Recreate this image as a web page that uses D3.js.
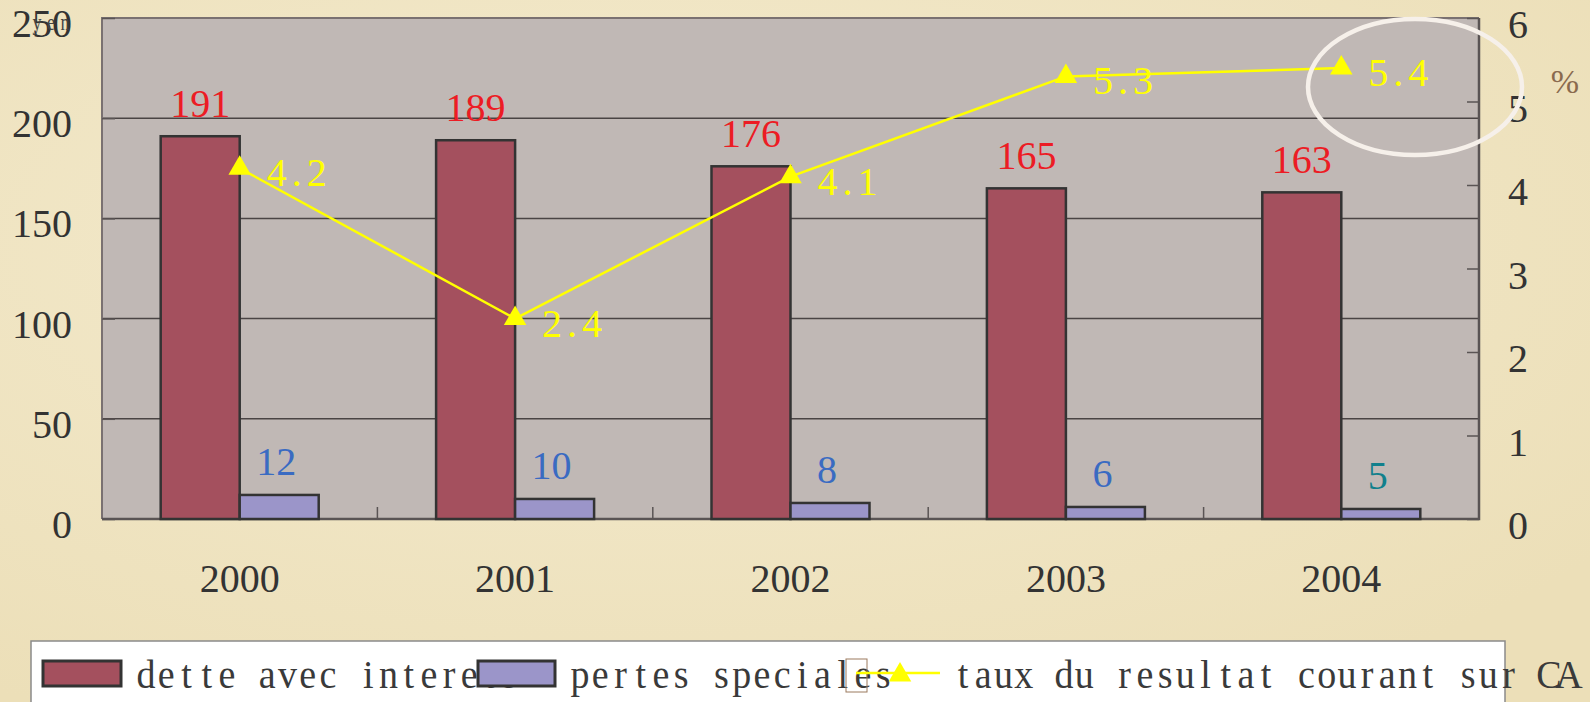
<!DOCTYPE html>
<html>
<head>
<meta charset="utf-8">
<script src="https://cdn.jsdelivr.net/npm/d3@7"></script>
<style>
  html, body { margin: 0; padding: 0; overflow: hidden; }
  svg { display: block; }
</style>
</head>
<body>
<svg id="chart"></svg>
<script>
const years = ["2000", "2001", "2002", "2003", "2004"];
const detteValues = [191, 189, 176, 165, 163];
const pertesValues = [12, 10, 8, 6, 5];
const tauxValues = [4.2, 2.4, 4.1, 5.3, 5.4];
const tauxLabels = ["4.2", "2.4", "4.1", "5.3", "5.4"];
const leftTicks = [0, 50, 100, 150, 200, 250];
const rightTicks = [0, 1, 2, 3, 4, 5, 6];
const seriesNames = ["dette avec interets", "pertes speciales", "taux du resultat courant sur CA"];
const pertesLabelColors = ["#3a6bc2", "#3a6bc2", "#3a6bc2", "#3a6bc2", "#11808c"];

const W = 1590, H = 702;
const plot = { left: 102, right: 1479, top: 18, bottom: 519 };
const FONT = "'Liberation Serif', 'DejaVu Serif', serif";

const svg = d3.select("#chart").attr("width", W).attr("height", H);

// parchment background
const defs = svg.append("defs");
const bg = defs.append("radialGradient").attr("id", "bgGrad").attr("cx", "40%").attr("cy", "35%").attr("r", "75%");
bg.append("stop").attr("offset", "0%").attr("stop-color", "#f4ebcf");
bg.append("stop").attr("offset", "100%").attr("stop-color", "#ecdfb8");
svg.append("rect").attr("width", W).attr("height", H).attr("fill", "url(#bgGrad)");

// fixed pitch text, like the half width glyphs of the original
function monoText(g, str, x, y, o) {
  const size = o.size || 40, pitch = o.pitch || 20, sx = o.sx || 1;
  const w = str.length * pitch;
  const x0 = o.anchor === "middle" ? x - w / 2 : o.anchor === "end" ? x - w : x;
  const t = g.append("text")
    .attr("transform", `translate(${x0},${y}) scale(${sx},1)`)
    .attr("font-family", FONT)
    .attr("font-size", size)
    .attr("fill", o.fill || "#333");
  str.split("").forEach((c, i) => {
    t.append("tspan").attr("x", (i + 0.5) * pitch / sx).attr("y", 0)
      .attr("text-anchor", "middle").text(c);
  });
  return t;
}

const x = d3.scaleBand().domain(years).range([plot.left, plot.right]).padding(0);
const xs = d3.scaleBand().domain(["dette", "pertes"]).range([0, x.bandwidth()])
  .paddingInner(0).paddingOuter(0.743);
const yL = d3.scaleLinear().domain([0, 250]).range([plot.bottom, plot.top]);
const yR = d3.scaleLinear().domain([0, 6]).range([plot.bottom, plot.top]);

// plot area
svg.append("rect")
  .attr("x", plot.left).attr("y", plot.top)
  .attr("width", plot.right - plot.left).attr("height", plot.bottom - plot.top)
  .attr("fill", "#c0b8b5");

// grid lines
svg.append("g").selectAll("line")
  .data(leftTicks.filter(d => d > 0 && d < 250))
  .enter().append("line")
  .attr("x1", plot.left).attr("x2", plot.right)
  .attr("y1", d => yL(d)).attr("y2", d => yL(d))
  .attr("stroke", "#4a4444").attr("stroke-width", 1.5);

// border
svg.append("path")
  .attr("d", `M${plot.left},${plot.bottom}V${plot.top}H${plot.right}`)
  .attr("fill", "none").attr("stroke", "#7a7171").attr("stroke-width", 2);
svg.append("path")
  .attr("d", `M${plot.left},${plot.bottom}H${plot.right}V${plot.top}`)
  .attr("fill", "none").attr("stroke", "#5a5454").attr("stroke-width", 2.5);

// inner ticks
const leftAxis = svg.append("g").attr("transform", `translate(${plot.left},0)`)
  .call(d3.axisRight(yL).tickValues(leftTicks).tickSize(13).tickFormat(""));
const rightAxis = svg.append("g").attr("transform", `translate(${plot.right},0)`)
  .call(d3.axisLeft(yR).tickValues(rightTicks).tickSize(12).tickFormat(""));
const bottomAxis = svg.append("g").attr("transform", `translate(0,${plot.bottom})`)
  .call(d3.axisTop(x).tickSize(0).tickFormat(""));
[leftAxis, rightAxis, bottomAxis].forEach(a => {
  a.select(".domain").remove();
  a.selectAll("line").attr("stroke", "#5a5454").attr("stroke-width", 1.5);
});
bottomAxis.append("g").selectAll("line")
  .data(years.slice(1))
  .enter().append("line")
  .attr("x1", d => x(d)).attr("x2", d => x(d))
  .attr("y1", 0).attr("y2", -12)
  .attr("stroke", "#5a5454").attr("stroke-width", 1.5);

// axis labels
leftTicks.forEach(v => monoText(svg, String(v), 72, yL(v) + 19, { anchor: "end" }));
rightTicks.forEach(v => monoText(svg, String(v), 1508, yR(v) + 20, { anchor: "start" }));
years.forEach(v => monoText(svg, v, x(v) + x.bandwidth() / 2, 592, { anchor: "middle" }));
monoText(svg, "yen", 30, 30, { size: 24, pitch: 14, sx: 0.75, fill: "#444" });
monoText(svg, "%", 1552, 93, { size: 34, pitch: 26, sx: 1, fill: "#8a6a4e" });

// bars
const bars = svg.append("g");
years.forEach((yr, i) => {
  const cells = [
    { key: "dette", v: detteValues[i], fill: "#a4505e" },
    { key: "pertes", v: pertesValues[i], fill: "#9b95c9" }
  ];
  cells.forEach(c => {
    bars.append("rect")
      .attr("x", x(yr) + xs(c.key))
      .attr("y", yL(c.v))
      .attr("width", xs.bandwidth())
      .attr("height", yL(0) - yL(c.v))
      .attr("fill", c.fill)
      .attr("stroke", "#333").attr("stroke-width", 2.5);
  });
});

// bar labels
years.forEach((yr, i) => {
  monoText(svg, String(detteValues[i]), x(yr) + xs("dette") + xs.bandwidth() / 2,
    yL(detteValues[i]) - 19, { anchor: "middle", fill: "#ec1c24" });
  monoText(svg, String(pertesValues[i]), x(yr) + xs("pertes") + xs.bandwidth() / 2 - 3,
    yL(pertesValues[i]) - 20, { anchor: "middle", fill: pertesLabelColors[i] });
});

// line series
const lineData = years.map((yr, i) => ({ yr, v: tauxValues[i], label: tauxLabels[i] }));
const line = d3.line().x(d => x(d.yr) + x.bandwidth() / 2).y(d => yR(d.v));
svg.append("path").datum(lineData)
  .attr("d", line).attr("fill", "none")
  .attr("stroke", "#ffff00").attr("stroke-width", 2.5);
const tri = d3.symbol().type(d3.symbolTriangle).size(220);
svg.append("g").selectAll("path")
  .data(lineData).enter().append("path")
  .attr("d", tri)
  .attr("transform", d => `translate(${x(d.yr) + x.bandwidth() / 2},${yR(d.v)})`)
  .attr("fill", "#ffff00");
lineData.forEach(d => {
  monoText(svg, d.label, x(d.yr) + x.bandwidth() / 2 + 27, yR(d.v) + 18,
    { anchor: "start", fill: "#ffff00" });
});

// highlight ellipse
svg.append("ellipse")
  .attr("cx", 1415).attr("cy", 87).attr("rx", 107).attr("ry", 68)
  .attr("fill", "none").attr("stroke", "#f6f0ea").attr("stroke-width", 4.5);

// legend
const lg = svg.append("g");
lg.append("rect").attr("x", 31).attr("y", 641).attr("width", 1474).attr("height", 80)
  .attr("fill", "#ffffff").attr("stroke", "#8a8a8a").attr("stroke-width", 1.5);
const lgText = { size: 40, pitch: 20.2, sx: 0.95, fill: "#3a3a3a" };
monoText(lg, seriesNames[0], 136, 688, lgText);
monoText(lg, seriesNames[1], 570, 688, lgText);
lg.append("rect").attr("x", 43).attr("y", 661).attr("width", 78).attr("height", 25)
  .attr("fill", "#a4505e").attr("stroke", "#333").attr("stroke-width", 3);
lg.append("rect").attr("x", 478).attr("y", 661).attr("width", 77).attr("height", 25)
  .attr("fill", "#9b95c9").attr("stroke", "#333").attr("stroke-width", 3);
lg.append("rect").attr("x", 846).attr("y", 659).attr("width", 21).attr("height", 33)
  .attr("fill", "none").attr("stroke", "#9b7a5e").attr("stroke-width", 1);
lg.append("line").attr("x1", 856).attr("x2", 940).attr("y1", 673).attr("y2", 673)
  .attr("stroke", "#ffff00").attr("stroke-width", 2.5);
lg.append("path").attr("d", tri).attr("transform", "translate(900,675)").attr("fill", "#ffff00");
monoText(svg, seriesNames[2], 953, 688, lgText);
</script>
</body>
</html>
